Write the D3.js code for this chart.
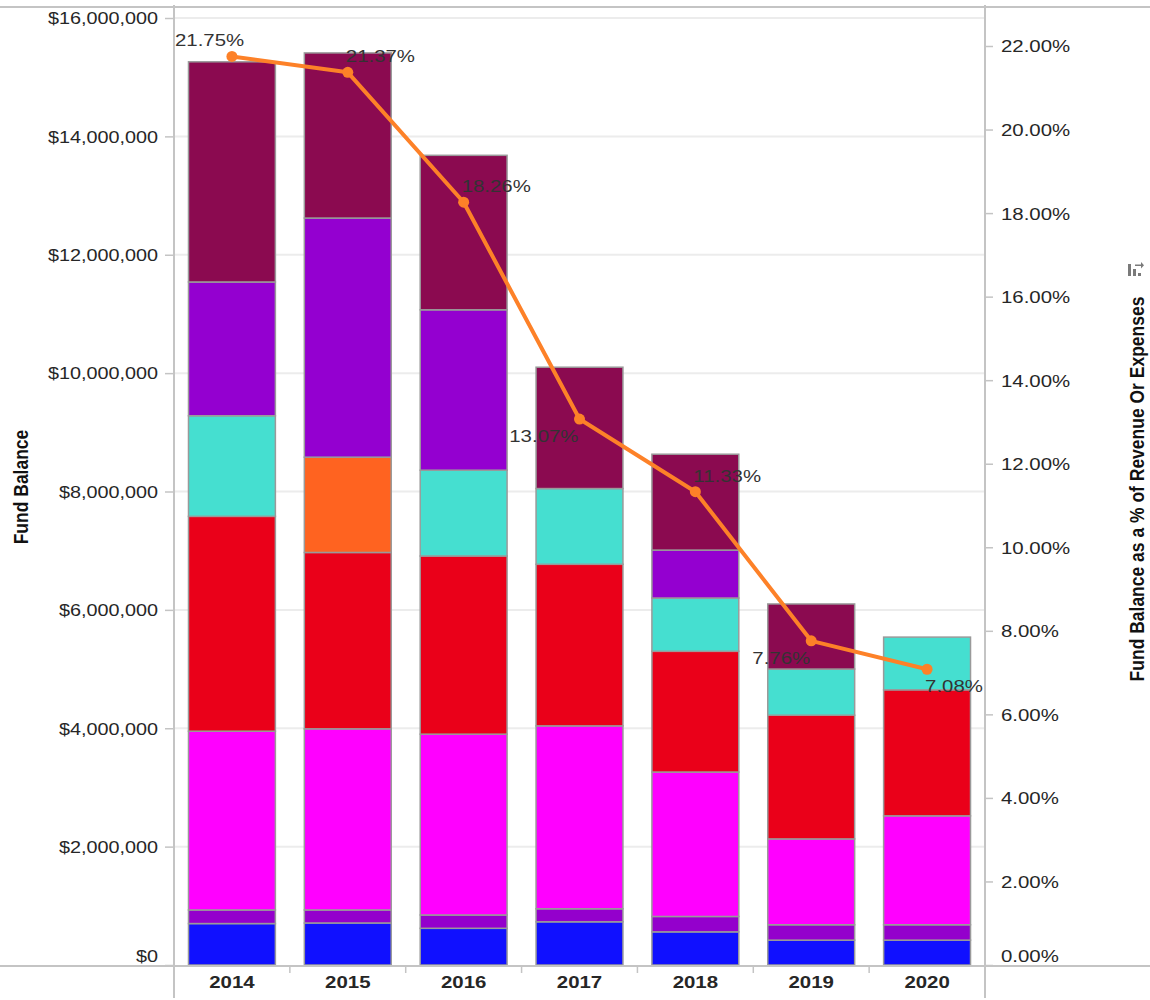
<!DOCTYPE html>
<html>
<head>
<meta charset="utf-8">
<script src="https://cdn.jsdelivr.net/npm/d3@7"></script>
<style>
  body { margin: 0; background: #fff; }
  text { font-family: "Liberation Sans", Arial, sans-serif; }
</style>
</head>
<body>
<svg id="chart" width="1150" height="1000"></svg>
<script>
// ---- data -------------------------------------------------------------
const years = ["2014", "2015", "2016", "2017", "2018", "2019", "2020"];

// stack order, bottom to top
const seriesNames  = ["Segment 1", "Segment 2", "Segment 3", "Segment 4",
                      "Segment 5", "Segment 6", "Segment 7", "Segment 8"];
const seriesColors = ["#1010ff", "#9400cc", "#ff00ff", "#ea0019",
                      "#ff6320", "#45dfd0", "#9400d0", "#8b0a50"];

const segment1 = [700000, 710000, 620000, 730000, 560000, 420000, 420000];
const segment2 = [230000, 220000, 225000, 220000, 260000, 260000, 260000];
const segment3 = [3020000, 3060000, 3055000, 3090000, 2440000, 1450000, 1840000];
const segment4 = [3630000, 2980000, 3010000, 2730000, 2040000, 2090000, 2130000];
const segment5 = [0, 1610000, 0, 0, 0, 0, 0];
const segment6 = [1700000, 0, 1450000, 1280000, 900000, 780000, 890000];
const segment7 = [2260000, 4040000, 2710000, 0, 810000, 0, 0];
const segment8 = [3720000, 2790000, 2610000, 2050000, 1620000, 1100000, 0];

// fund balance as a share of revenue or expenses
const pctValues = [0.2175, 0.2137, 0.1826, 0.1307, 0.1133, 0.0776, 0.0708];
const pctLabels = ["21.75%", "21.37%", "18.26%", "13.07%", "11.33%", "7.76%", "7.08%"];
const pctLabelSide = ["nw", "ne", "ne", "sw", "ne", "sw", "se"];

const leftTickValues  = [0, 2000000, 4000000, 6000000, 8000000, 10000000, 12000000, 14000000, 16000000];
const rightTickValues = [0, 0.02, 0.04, 0.06, 0.08, 0.10, 0.12, 0.14, 0.16, 0.18, 0.20, 0.22];

const leftTitle  = "Fund Balance";
const rightTitle = "Fund Balance as a % of Revenue Or Expenses";

// ---- layout -----------------------------------------------------------
const W = 1150, H = 1000;
const plot = { left: 174, right: 985, top: 7, bottom: 966 };
const XSTRETCH = 1.2;   // the typeface is drawn slightly wide
const gridColor = "#ececec", axisColor = "#c4c4c4", textColor = "#262626";

const svg = d3.select("#chart");

const x = d3.scaleBand().domain(years)
  .range([plot.left, plot.right]).paddingInner(0.25).paddingOuter(0.125);
const yL = d3.scaleLinear().domain([0, 16000000]).range([965, 18]);
const yR = d3.scaleLinear().domain([0, 0.22]).range([965, 46]);

// widen each text horizontally; returns nothing, stores the new width in textLength
function widen(sel) {
  sel.each(function () {
    const w = this.getComputedTextLength();
    this.setAttribute("textLength", w * XSTRETCH);
    this.setAttribute("lengthAdjust", "spacingAndGlyphs");
  });
}

// gridlines
svg.append("g").selectAll("line").data(leftTickValues.filter(d => d > 0)).join("line")
  .attr("x1", plot.left).attr("x2", plot.right)
  .attr("y1", d => yL(d)).attr("y2", d => yL(d))
  .attr("stroke", gridColor).attr("stroke-width", 2);

// stacked bars
const segments = [segment1, segment2, segment3, segment4, segment5, segment6, segment7, segment8];
const table = years.map((yr, i) => {
  const row = { year: yr };
  seriesNames.forEach((s, k) => row[s] = segments[k][i]);
  return row;
});
const stacked = d3.stack().keys(seriesNames)(table);

svg.append("g").selectAll("g").data(stacked).join("g")
  .attr("fill", (d, k) => seriesColors[k])
  .selectAll("rect").data(d => d.filter(p => p[1] - p[0] > 0)).join("rect")
  .attr("x", d => x(d.data.year))
  .attr("width", x.bandwidth())
  .attr("y", d => yL(d[1]))
  .attr("height", d => yL(d[0]) - yL(d[1]))
  .attr("stroke", "#9a9a9a").attr("stroke-width", 1.5);

// frame lines
const frame = svg.append("g").attr("stroke", axisColor).attr("stroke-width", 2);
frame.append("line").attr("x1", 0).attr("x2", W).attr("y1", plot.top).attr("y2", plot.top);
frame.append("line").attr("x1", 0).attr("x2", W).attr("y1", plot.bottom).attr("y2", plot.bottom);
frame.append("line").attr("x1", plot.left).attr("x2", plot.left).attr("y1", plot.top - 2).attr("y2", 998);
frame.append("line").attr("x1", plot.right).attr("x2", plot.right).attr("y1", plot.top - 2).attr("y2", 998);

// left axis
const gL = svg.append("g").attr("transform", `translate(${plot.left},0)`)
  .call(d3.axisLeft(yL).tickValues(leftTickValues).tickSize(9).tickSizeOuter(0).tickPadding(7)
    .tickFormat(d => "$" + d3.format(",")(d)));
gL.select(".domain").remove();
gL.selectAll(".tick line").attr("stroke", axisColor).attr("stroke-width", 1.5);
gL.selectAll(".tick text").attr("fill", textColor).attr("font-size", 16.5)
  .attr("font-family", "Liberation Sans, Arial, sans-serif")
  .attr("dy", d => d === 0 ? "-0.2em" : "0.35em");
widen(gL.selectAll(".tick text"));

// right axis
const gR = svg.append("g").attr("transform", `translate(${plot.right},0)`)
  .call(d3.axisRight(yR).tickValues(rightTickValues).tickSize(8).tickSizeOuter(0).tickPadding(8)
    .tickFormat(d3.format(".2%")));
gR.select(".domain").remove();
gR.selectAll(".tick line").attr("stroke", axisColor).attr("stroke-width", 1.5);
gR.selectAll(".tick text").attr("fill", textColor).attr("font-size", 17)
  .attr("font-family", "Liberation Sans, Arial, sans-serif")
  .attr("dy", d => d === 0 ? "-0.2em" : "0.35em");
widen(gR.selectAll(".tick text"));

// bottom axis: year labels and tick marks between bands
const gB = svg.append("g").attr("transform", `translate(0,${plot.bottom})`)
  .call(d3.axisBottom(x).tickSize(0).tickPadding(10));
gB.select(".domain").remove();
gB.selectAll(".tick text").attr("fill", textColor).attr("font-size", 17).attr("font-weight", "bold")
  .attr("font-family", "Liberation Sans, Arial, sans-serif");
widen(gB.selectAll(".tick text"));
svg.append("g").selectAll("line").data(years.slice(1)).join("line")
  .attr("x1", d => x(d) - x.step() * x.paddingInner() / 2)
  .attr("x2", d => x(d) - x.step() * x.paddingInner() / 2)
  .attr("y1", plot.bottom).attr("y2", plot.bottom + 7)
  .attr("stroke", axisColor).attr("stroke-width", 1.5);

// percentage line
const pts = years.map((yr, i) => ({ year: yr, v: pctValues[i], label: pctLabels[i], side: pctLabelSide[i] }));
const cx = d => x(d.year) + x.bandwidth() / 2;
svg.append("path").datum(pts)
  .attr("fill", "none").attr("stroke", "#fd8128").attr("stroke-width", 4)
  .attr("stroke-linejoin", "round")
  .attr("d", d3.line().x(cx).y(d => yR(d.v)));
svg.append("g").selectAll("circle").data(pts).join("circle")
  .attr("cx", cx).attr("cy", d => yR(d.v)).attr("r", 5.5).attr("fill", "#fd8128");

// value labels, placed beside each point and kept inside the plot
const labels = svg.append("g").selectAll("text").data(pts).join("text")
  .attr("font-size", 17).attr("fill", "#333")
  .attr("text-anchor", "start")
  .attr("y", d => yR(d.v) + (d.side[0] === "n" ? -10 : 23))
  .text(d => d.label);
widen(labels);
labels.attr("x", function (d) {
  const w = +this.getAttribute("textLength");
  const px = cx(d);
  let x0 = d.side[1] === "w" ? px - w - 1 : px - 2;
  if (x0 < plot.left + 1) x0 = plot.left + 1;
  if (x0 + w > plot.right - 2) x0 = plot.right - 2 - w;
  return x0;
});

// axis titles
svg.append("text")
  .attr("transform", `translate(28,487) rotate(-90) scale(1,${XSTRETCH})`)
  .attr("text-anchor", "middle").attr("font-size", 17.5).attr("font-weight", "bold")
  .attr("fill", "#111").text(leftTitle);
svg.append("text")
  .attr("transform", `translate(1144,489) rotate(-90) scale(1,${XSTRETCH})`)
  .attr("text-anchor", "middle").attr("font-size", 17.5).attr("font-weight", "bold")
  .attr("fill", "#111").text(rightTitle);

// small sort icon above the right title
const icon = svg.append("g").attr("transform", "translate(1128,262)").attr("fill", "#7a7a7a");
icon.append("rect").attr("x", 0).attr("y", 2).attr("width", 3).attr("height", 12);
icon.append("rect").attr("x", 5).attr("y", 7).attr("width", 3).attr("height", 7);
icon.append("rect").attr("x", 10).attr("y", 11).attr("width", 3).attr("height", 3);
icon.append("rect").attr("x", 7).attr("y", 2.5).attr("width", 7).attr("height", 1.5);
icon.append("path").attr("d", "M13,0 L16,3.25 L13,6.5 Z");
</script>
</body>
</html>
